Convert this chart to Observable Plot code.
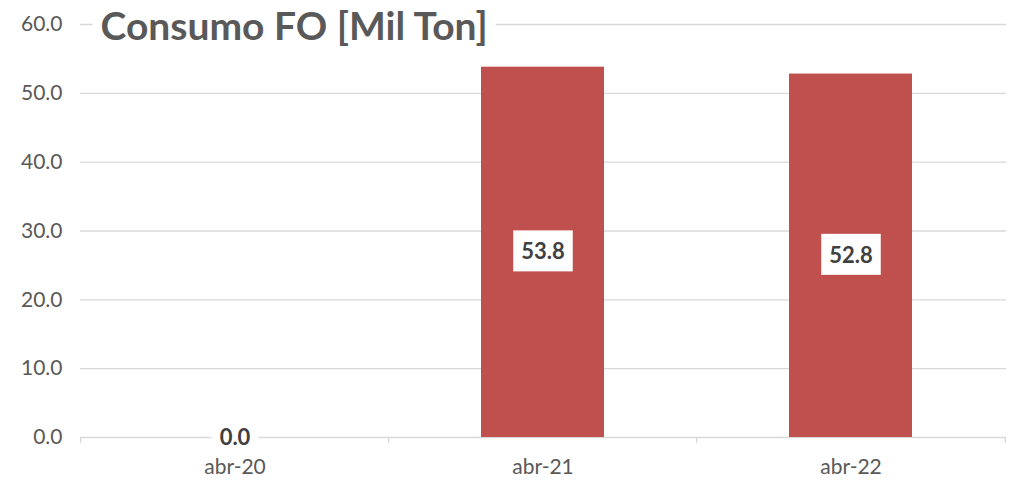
<!DOCTYPE html>
<html>
<head>
<meta charset="utf-8">
<script src="https://cdn.jsdelivr.net/npm/d3@7"></script>
<script src="https://cdn.jsdelivr.net/npm/@observablehq/plot@0.6"></script>
<style>
  html, body { margin: 0; padding: 0; background: #fff; }
  #chart { width: 1012px; height: 497px; }
  svg { overflow: visible; }
</style>
</head>
<body>
<div id="chart"></div>
<script>
const categories = ["abr-20", "abr-21", "abr-22"];
const values = [0.0, 53.8, 52.8];
const yTicks = [0, 10, 20, 30, 40, 50, 60];
const title = "Consumo FO [Mil Ton]";

const data = categories.map((c, i) => ({cat: c, value: values[i]}));
const fmt = d3.format(".1f");

const W = 1012, H = 497;
const mL = 80, mR = 6, mT = 24, mB = 60;
const step = (W - mL - mR) / categories.length;
const FONT = "Lato, 'Open Sans', sans-serif";

const chart = Plot.plot({
  width: W,
  height: H,
  marginLeft: mL,
  marginRight: mR,
  marginTop: mT,
  marginBottom: mB,
  style: {fontFamily: FONT, background: "#fff", overflow: "visible"},
  x: {domain: categories, paddingInner: 0.6, paddingOuter: 0.3, label: null},
  y: {domain: [0, 60], label: null},
  marks: [
    Plot.ruleY(yTicks, {stroke: "#d9d9d9", strokeWidth: 1.3}),
    Plot.ruleX(categories, {x: d => d, y1: 0, y2: 0, insetBottom: -6, dx: -step / 2, stroke: "#d9d9d9", strokeWidth: 1.3}),
    Plot.ruleX(categories.slice(-1), {x: d => d, y1: 0, y2: 0, insetBottom: -6, dx: step / 2, stroke: "#d9d9d9", strokeWidth: 1.3}),
    Plot.barY(data, {x: "cat", y: "value", fill: "#c0504d"}),
    Plot.axisY({ticks: yTicks, tickFormat: fmt, tickSize: 0, tickPadding: 18, fontSize: 21, fill: "#595959", label: null}),
    Plot.axisX({tickSize: 0, tickPadding: 22, fontSize: 21, fill: "#595959", label: null}),
    Plot.text(data, {x: "cat", y: d => d.value / 2, text: d => fmt(d.value), fontSize: 22, fontWeight: "bold", fill: "#404040", className: "vlabel"}),
    Plot.text([title], {frameAnchor: "top-left", text: d => d, dx: 20, dy: 3, lineAnchor: "middle", textAnchor: "start", fontSize: 39, fontWeight: "bold", fill: "#595959", className: "ctitle"})
  ]
});

document.getElementById("chart").appendChild(chart);

const labelTexts = new Set(values.map(fmt));
function boxify(texts, padX, padY) {
  texts.forEach(t => {
    const b = t.getBBox();
    const r = document.createElementNS("http://www.w3.org/2000/svg", "rect");
    r.setAttribute("x", b.x - padX);
    r.setAttribute("y", b.y - padY);
    r.setAttribute("width", b.width + 2 * padX);
    r.setAttribute("height", b.height + 2 * padY);
    r.setAttribute("fill", "#ffffff");
    r.setAttribute("stroke", "none");
    const tr = t.getAttribute("transform");
    if (tr) r.setAttribute("transform", tr);
    t.parentNode.insertBefore(r, t);
  });
}
const allTexts = Array.from(chart.querySelectorAll("text"));
const valueTexts = allTexts.filter(t => t.getAttribute("font-weight") === "bold" && labelTexts.has(t.textContent) || (t.closest("g") && t.closest("g").getAttribute("font-weight") === "bold" && labelTexts.has(t.textContent)));
const titleTexts = allTexts.filter(t => t.textContent === title);
boxify(valueTexts, 8, 7);
boxify(titleTexts, 8, 0);
</script>
</body>
</html>
